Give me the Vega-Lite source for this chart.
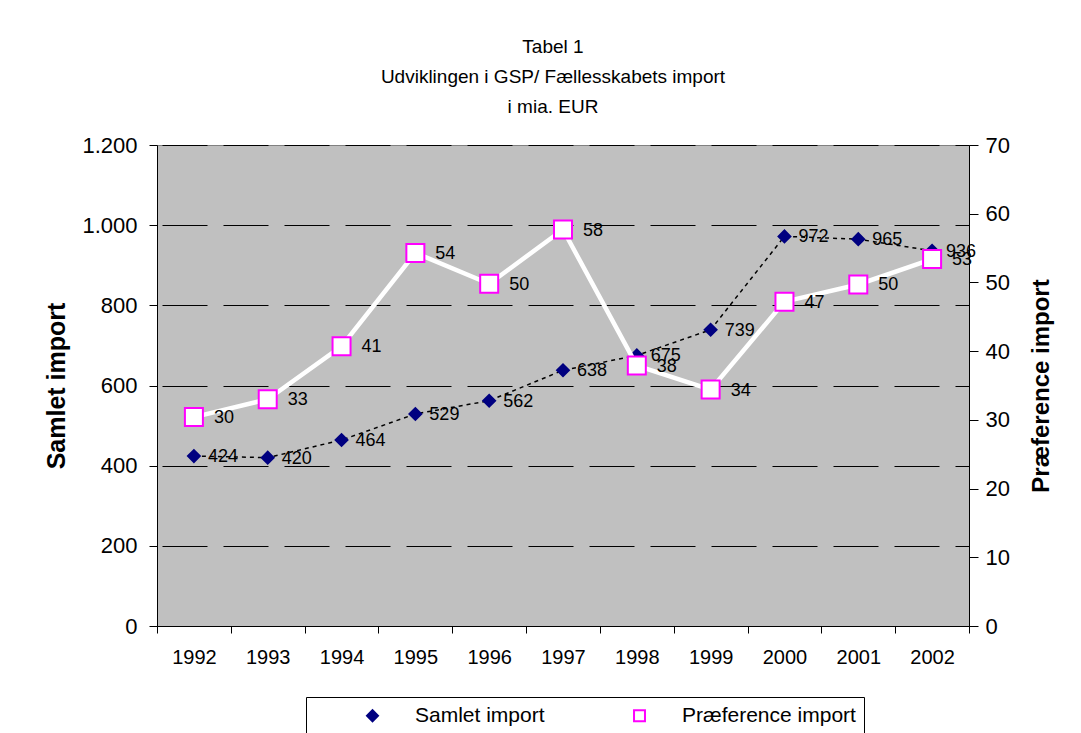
{
  "$schema": "https://vega.github.io/schema/vega-lite/v6.json",
  "width": 812,
  "height": 481,
  "autosize": {"type": "none"},
  "padding": {"left": 157, "top": 145, "right": 112, "bottom": 107},
  "background": "#ffffff",
  "title": {
    "text": ["Tabel 1", "Udviklingen i GSP/ Fællesskabets import", "i mia. EUR"],
    "font": "Liberation Sans",
    "fontSize": 19,
    "fontWeight": "normal",
    "lineHeight": 30,
    "anchor": "middle",
    "color": "#000",
    "offset": 17,
    "dx": -10
  },
  "data": {
    "values": [
      {"year": "1992", "samlet": 424, "pref": 30.4},
      {"year": "1993", "samlet": 420, "pref": 33.0},
      {"year": "1994", "samlet": 464, "pref": 40.7},
      {"year": "1995", "samlet": 529, "pref": 54.3},
      {"year": "1996", "samlet": 562, "pref": 49.8},
      {"year": "1997", "samlet": 638, "pref": 57.7},
      {"year": "1998", "samlet": 675, "pref": 37.9},
      {"year": "1999", "samlet": 739, "pref": 34.4},
      {"year": "2000", "samlet": 972, "pref": 47.2},
      {"year": "2001", "samlet": 965, "pref": 49.7},
      {"year": "2002", "samlet": 936, "pref": 53.4}
    ]
  },
  "config": {
    "font": "Liberation Sans",
    "view": {"fill": "#C0C0C0", "stroke": "#808080"},
    "axis": {
      "labelFont": "Liberation Sans",
      "labelColor": "#000",
      "domainColor": "#000",
      "tickColor": "#000",
      "titleColor": "#000",
      "titleFont": "Liberation Sans"
    }
  },
  "encoding": {
    "x": {
      "field": "year",
      "type": "ordinal",
      "scale": {"type": "band", "paddingInner": 0, "paddingOuter": 0},
      "axis": {
        "title": null,
        "labelAngle": 0,
        "labelFontSize": 20,
        "labelPadding": 14,
        "tickBand": "extent",
        "tickSize": 7,
        "grid": false,
        "domainWidth": 1
      }
    }
  },
  "layer": [
    {
      "encoding": {
        "y": {
          "field": "samlet",
          "type": "quantitative",
          "scale": {"domain": [0, 1200], "nice": false},
          "axis": {
            "orient": "left",
            "title": "Samlet import",
            "titleFontSize": 25,
            "titleFontWeight": "bold",
            "titlePadding": 12,
            "values": [0, 200, 400, 600, 800, 1000, 1200],
            "labelExpr": "replace(format(datum.value, ','), ',', '.')",
            "labelFontSize": 22,
            "labelPadding": 12,
            "tickSize": 8,
            "grid": true,
            "gridColor": "#000",
            "gridWidth": 1,
            "gridDash": [45, 16],
            "gridDashOffset": 56
          }
        }
      },
      "layer": [
        {
          "mark": {"type": "line", "color": "#000", "strokeWidth": 1.5, "strokeDash": [4, 4]},
          "encoding": {}
        },
        {
          "mark": {"type": "point", "filled": true, "size": 140, "opacity": 1},
          "encoding": {
            "fill": {
              "datum": "Samlet import",
              "scale": {"domain": ["Samlet import", "Præference import"], "range": ["#000080", "transparent"]},
              "legend": {
                "orient": "none",
                "legendX": 149,
                "legendY": 552,
                "direction": "horizontal",
                "title": null,
                "strokeColor": "#000",
                "fillColor": "#fff",
                "padding": 8,
                "labelFontSize": 21,
                "labelFont": "Liberation Sans",
                "labelColor": "#000",
                "labelLimit": 400,
                "symbolOffset": 48,
                "labelOffset": 32,
                "columnPadding": 36,
                "symbolSize": 120,
                "symbolStrokeWidth": 2,
                "symbolOpacity": 1
              }
            },
            "stroke": {
              "datum": "Samlet import",
              "scale": {"domain": ["Samlet import", "Præference import"], "range": ["#000080", "#FF00FF"]}
            },
            "shape": {
              "datum": "Samlet import",
              "scale": {"domain": ["Samlet import", "Præference import"], "range": ["diamond", "square"]}
            }
          }
        },
        {
          "mark": {"type": "text", "align": "left", "baseline": "middle", "dx": 14, "dy": 1, "fontSize": 18, "color": "#000"},
          "encoding": {"text": {"field": "samlet", "type": "quantitative", "format": "d"}}
        }
      ]
    },
    {
      "encoding": {
        "y": {
          "field": "pref",
          "type": "quantitative",
          "scale": {"domain": [0, 70], "nice": false},
          "axis": {
            "orient": "right",
            "title": "Præference import",
            "titleFontSize": 24,
            "titleFontWeight": "bold",
            "titleAngle": 270,
            "titleBaseline": "top",
            "titlePadding": 20,
            "values": [0, 10, 20, 30, 40, 50, 60, 70],
            "labelFontSize": 22,
            "labelPadding": 7,
            "tickSize": 9,
            "grid": false
          }
        }
      },
      "layer": [
        {
          "mark": {"type": "line", "color": "#ffffff", "strokeWidth": 4.5},
          "encoding": {}
        },
        {
          "mark": {"type": "point", "filled": false, "fill": "#ffffff", "size": 324, "strokeWidth": 2, "opacity": 1},
          "encoding": {
            "stroke": {"datum": "Præference import"},
            "shape": {"datum": "Præference import"}
          }
        },
        {
          "mark": {"type": "text", "align": "left", "baseline": "middle", "dx": 20, "dy": 1, "fontSize": 18, "color": "#000"},
          "encoding": {"text": {"field": "pref", "type": "quantitative", "format": ".0f"}}
        }
      ]
    }
  ],
  "resolve": {"scale": {"y": "independent"}}
}
